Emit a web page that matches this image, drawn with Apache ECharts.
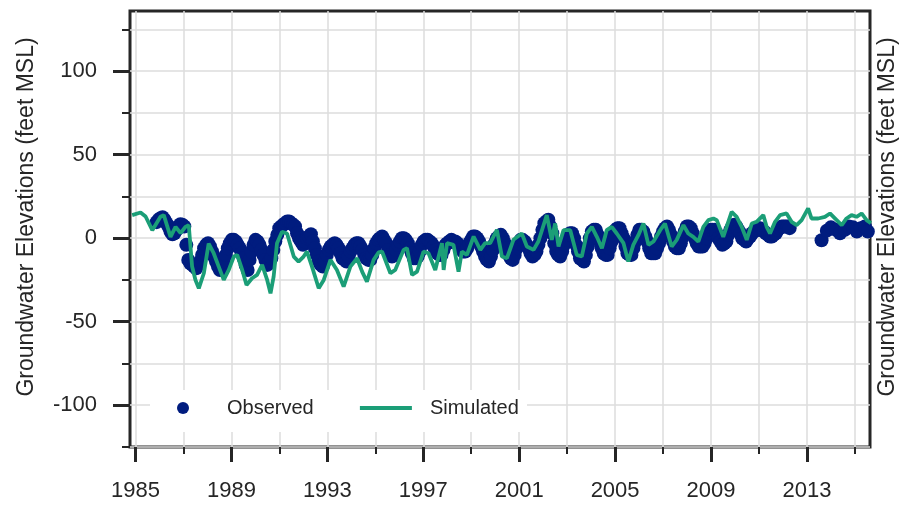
<!DOCTYPE html>
<html>
<head>
<meta charset="utf-8">
<script src="https://cdn.jsdelivr.net/npm/echarts@6/dist/echarts.min.js"></script>
<style>
html,body{margin:0;padding:0;background:#fff;}
#chart{width:899px;height:505px;}
</style>
</head>
<body>
<div id="chart"></div>
<script>
// ---- data ----
const simYears = [1984.86,1985.21,1985.42,1985.70,1986.04,1986.18,1986.46,1986.67,1986.88,1987.08,1987.22,1987.36,1987.50,1987.64,1987.85,1988.05,1988.26,1988.47,1988.68,1988.89,1989.10,1989.24,1989.45,1989.63,1989.86,1990.07,1990.28,1990.49,1990.63,1990.76,1990.90,1991.11,1991.32,1991.60,1991.80,1992.01,1992.15,1992.36,1992.64,1992.85,1993.13,1993.40,1993.68,1993.96,1994.24,1994.45,1994.65,1994.93,1995.14,1995.28,1995.63,1995.83,1996.18,1996.32,1996.53,1996.74,1997.01,1997.22,1997.50,1997.78,1997.85,1997.99,1998.26,1998.47,1998.61,1998.82,1999.10,1999.38,1999.58,1999.79,2000.07,2000.28,2000.49,2000.76,2001.11,2001.32,2001.60,2001.80,2002.15,2002.36,2002.50,2002.64,2002.85,2003.13,2003.40,2003.61,2003.82,2004.03,2004.24,2004.45,2004.65,2004.86,2005.07,2005.35,2005.55,2005.76,2005.97,2006.18,2006.39,2006.60,2006.88,2007.08,2007.36,2007.57,2007.85,2008.05,2008.26,2008.47,2008.68,2008.89,2009.10,2009.24,2009.51,2009.86,2010.07,2010.28,2010.49,2010.70,2010.90,2011.18,2011.32,2011.46,2011.67,2011.88,2012.15,2012.36,2012.57,2012.78,2013.05,2013.19,2013.47,2013.75,2013.96,2014.24,2014.45,2014.65,2014.86,2015.07,2015.28,2015.49,2015.67];
const simValues = [13.8,15.4,13,4.8,12.8,13.8,0.8,6.8,3,6.8,7.8,-17,-25,-30,-21,-3.2,-9,-17,-25,-19,-11,-10,-19,-28,-24,-22,-16,-25,-33,-23,-3,3.8,2.8,-11,-14,-11,-8,-17,-30,-25,-13,-19,-29,-17,-12,-20,-26,-13,-8.5,-8,-21,-19,-7,-6,-22,-20,-8,-9,-19,-3,-19,-3,-4,-20,-8,-10,1,-7,-3,-3,5,-11,-12,-1,2.8,-5,-7,-2,13.8,-1,8.8,-5,4.8,4.8,-10,-11,2.8,6.8,0.8,-6,4.8,6.8,2.8,-3,-14,-4,1.8,8.8,-4,-2,4.8,8.8,-5,-1,7.8,2.8,0.8,-2,6.8,10.8,11.8,10.8,0.8,15.8,12.8,6.8,-1,8.8,9.8,13.8,6.8,2.8,9.8,13.8,14.8,9.8,7.8,10.8,17.8,11.8,11.8,12.8,14.8,10.8,7.8,11.8,13.8,12.8,14.8,10.8,9];

// observed, regular sampling from obsStart every obsStep years
const obsStart = 1985.88;
const obsStep = 0.0825;
const obsRegular = [
  9.6,11,12,12.5,11,9,7,4,2.4,3,4.8,7,8.4,8,7,-4,
  -13,-15,-16,-17,-18,-16,-14,-10,-6,-4,-3,-5,-8,-11,-14,-17,
  -19,-17,-14,-10,-6,-3,-1,-1,-2,-4,-6,-9,-12,-16,-19,-13,
  -8,-4,-1,-2,-4,-7,-10,-13,-16,-14,-12,-7,-2,2,6,7,
  8,9,10,10,9,8,7,3,0,-2,-4,-2,0,1,2.4,-2,
  -6,-10,-14,-16,-17,-14,-10,-7,-5,-4,-3,-4,-6,-9,-12,-13,
  -14,-11,-8,-6,-4,-3,-3,-5,-7,-10,-12,-13,-13,-10,-6,-3,
  -1,0,1,-1,-3,-7,-10,-11,-10,-7,-4,-2,0,0,-1,-3,
  -6,-9,-12,-12,-11,-8,-4,-2,-1,-1,-2,-3,-5,-7,-9,-10,
  -10,-7,-4,-3,-2,-1,-2,-2,-3,-5,-7,-8,-8,-6,-3,-1,
  1,1,0,-2,-5,-8,-11,-13,-14,-11,-7,-3,0,1,2,0,
  -3,-6,-10,-12,-13,-10,-6,-3,-1,-1,-2,-4,-6,-9,-11,-10,
  -8,-4,0,5,9,10,11,7,3,-3,-8,-10,-11,-8,-4,-1,
  2,3,3,0,-4,-8,-12,-13,-14,-10,-5,0,4,5,5,2,
  -2,-6,-9,-10,-10,-6,-2,2,5,6,6,3,0,-5,-9,-10,
  -10,-6,-2,2,5,5,4,1,-2,-6,-9,-9,-9,-6,-3,1,
  4,6,7,5,2,-2,-5,-6,-6,-3,1,4,7,7,6,3,
  0,-3,-5,-5,-5,-3,0,3,5,5,5,3,0,-2,-4,-3,
  -2,2,5,7,8,7,5,3,0,-1,-2,0,1,3,4,5,
  6,6,5,4,3,2,1,1,2,3,5,6,7,7,7,7,6
];
const obsLateYears = [2013.61,2013.83,2014.00,2014.21,2014.38,2014.58,2014.75,2014.92,2015.08,2015.25,2015.42,2015.54];
const obsLateValues = [-1.2,4.5,6.5,5,3,5,7,6.5,4,6,7,4];

const xMinorTicks = [1985,1987,1989,1991,1993,1995,1997,1999,2001,2003,2005,2007,2009,2011,2013,2015];
const xTickLabels = [1985,1989,1993,1997,2001,2005,2009,2013];
const yMinorTicks = [-125,-100,-75,-50,-25,0,25,50,75,100,125];
const yTickLabels = [-100,-50,0,50,100];
const seriesNames = ['Observed','Simulated'];
const yTitle = 'Groundwater Elevations (feet MSL)';

// ---- chart ----
const FONT = "'Liberation Sans Narrow','Arial Narrow','Liberation Sans',Arial,sans-serif";
const DARK = '#262626';
const X_MIN = 1984.77, X_MAX = 2015.63, Y_MIN = -125, Y_MAX = 136;

const simData = simYears.map((x, i) => [x, simValues[i]]);
const obsData = obsRegular.map((v, i) => [obsStart + i * obsStep, v])
  .concat(obsLateYears.map((x, i) => [x, obsLateValues[i]]));

const chart = echarts.init(document.getElementById('chart'), null, {renderer: 'canvas'});
chart.setOption({
  animation: false,
  backgroundColor: '#ffffff',
  grid: {left: 130, right: 29, top: 11, bottom: 58, show: true, borderColor: DARK, borderWidth: 3,
    backgroundColor: 'transparent', outerBoundsMode: 'none', containLabel: false},
  graphic: [{
    type: 'rect', z: 5,
    shape: {x: 150, y: 390, width: 377, height: 42},
    style: {fill: '#ffffff'}
  }],
  legend: [
    {
      z: 10, left: 177, top: 395, padding: 0,
      itemWidth: 12, itemHeight: 12,
      formatter: '{t|{name}}',
      textStyle: {fontFamily: FONT, fontSize: 20, color: DARK, lineHeight: 26,
        rich: {t: {fontFamily: FONT, fontSize: 20, color: DARK, padding: [0, 0, 0, 33]}}},
      data: [{name: seriesNames[0], icon: 'circle'}]
    },
    {
      z: 10, left: 358, top: 395, padding: 0,
      itemWidth: 52, itemHeight: 12,
      formatter: '{t|{name}}',
      textStyle: {fontFamily: FONT, fontSize: 20, color: DARK, lineHeight: 26,
        rich: {t: {fontFamily: FONT, fontSize: 20, color: DARK, padding: [0, 0, 0, 13]}}},
      data: [{name: seriesNames[1], itemStyle: {opacity: 0, color: 'rgba(0,0,0,0)', borderWidth: 0}, lineStyle: {width: 3.8, color: '#1b9e77'}}]
    }
  ],
  xAxis: [
    {
      type: 'value', min: X_MIN, max: X_MAX, position: 'bottom',
      axisLine: {show: false, onZero: false},
      axisTick: {show: true, customValues: xMinorTicks, length: 7, lineStyle: {color: DARK, width: 2}},
      axisLabel: {show: false},
      splitLine: {show: true, lineStyle: {color: '#dcdcdc', width: 1.5}}
    },
    {
      type: 'value', min: X_MIN, max: X_MAX, position: 'bottom',
      axisLine: {show: false, onZero: false},
      axisTick: {show: true, customValues: xTickLabels, length: 15, lineStyle: {color: DARK, width: 3}},
      axisLabel: {show: true, customValues: xTickLabels, margin: 33, fontFamily: FONT, fontSize: 22, color: DARK, formatter: v => String(v)},
      splitLine: {show: false}
    }
  ],
  yAxis: [
    {
      type: 'value', min: Y_MIN, max: Y_MAX, position: 'left',
      axisLine: {show: false, onZero: false},
      axisTick: {show: true, customValues: yMinorTicks, length: 8, lineStyle: {color: DARK, width: 2}},
      axisLabel: {show: false},
      splitLine: {show: true, lineStyle: {color: '#dcdcdc', width: 1.5}}
    },
    {
      type: 'value', min: Y_MIN, max: Y_MAX, position: 'left',
      axisLine: {show: false, onZero: false},
      axisTick: {show: true, customValues: yTickLabels, length: 17, lineStyle: {color: DARK, width: 3}},
      axisLabel: {show: true, customValues: yTickLabels, margin: 33, fontFamily: FONT, fontSize: 22, color: DARK},
      splitLine: {show: false},
      name: yTitle, nameLocation: 'middle', nameGap: 92,
      nameTextStyle: {fontFamily: FONT, fontSize: 23, color: DARK, padding: [0, 0, 0, 24]}
    },
    {
      type: 'value', min: Y_MIN, max: Y_MAX, position: 'right',
      axisLine: {show: false, onZero: false}, axisTick: {show: false}, axisLabel: {show: false}, splitLine: {show: false},
      name: yTitle, nameLocation: 'middle', nameGap: 6,
      nameTextStyle: {fontFamily: FONT, fontSize: 23, color: DARK, padding: [0, 0, 0, 24]}
    }
  ],
  series: [
    {
      name: seriesNames[0], type: 'scatter', xAxisIndex: 0, yAxisIndex: 0,
      symbol: 'circle', symbolSize: 14,
      itemStyle: {color: '#001c7f', opacity: 1},
      data: obsData, z: 2
    },
    {
      name: seriesNames[1], type: 'line', xAxisIndex: 0, yAxisIndex: 0,
      symbol: 'none', showSymbol: false,
      lineStyle: {color: '#1b9e77', width: 3.8},
      itemStyle: {color: '#1b9e77'},
      data: simData, z: 3
    }
  ]
});
</script>
</body>
</html>
